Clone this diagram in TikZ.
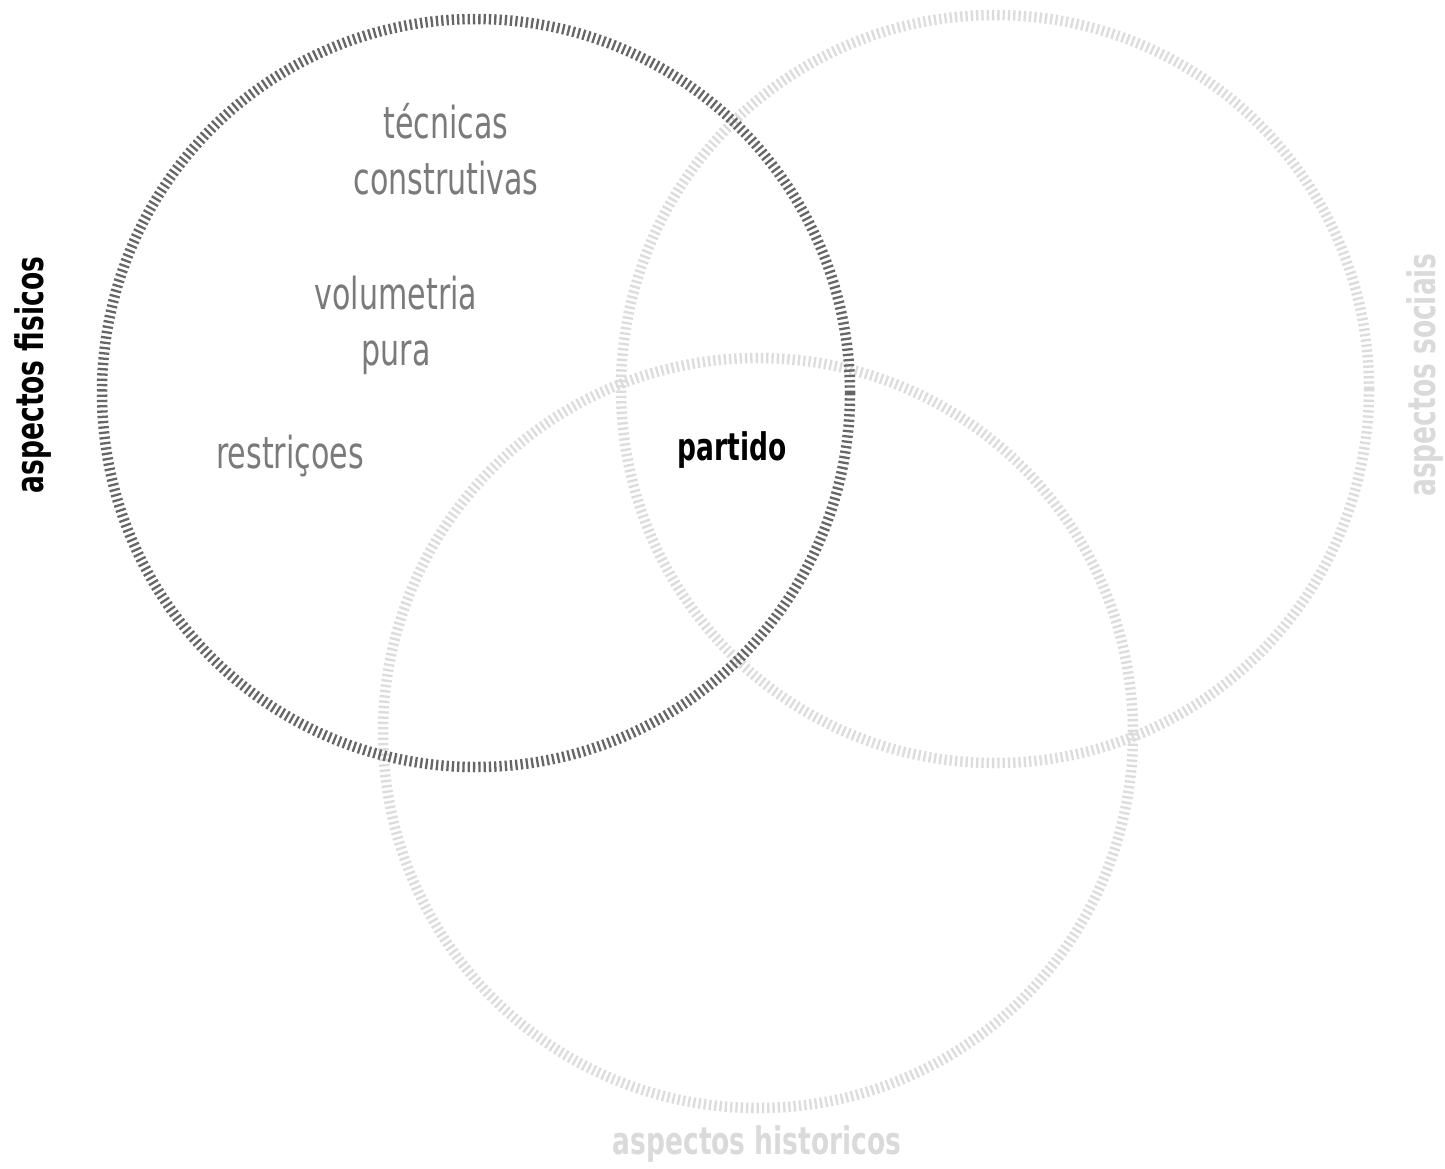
\documentclass[tikz,border=0pt]{standalone}
\usepackage{fontspec}
\setmainfont{DejaVu Sans Condensed}
\newfontfamily\boldcond{DejaVu Sans Condensed Bold}
\newcommand\cnd[1]{\scalebox{0.76}[1]{#1}}
\newcommand\bcnd[1]{\scalebox{0.775}[1]{#1}}
\definecolor{darkring}{HTML}{666666}
\definecolor{lightring}{HTML}{DCDCDC}
\definecolor{txtgray}{HTML}{7A7A7A}
\definecolor{lbllight}{HTML}{DADADA}
\begin{document}
\begin{tikzpicture}[x=1pt,y=-1pt,
  ring/.style={line width=10.5pt, dash pattern=on 2.3pt off 3pt},
  word/.style={text=txtgray, font=\fontsize{44}{48}\selectfont, inner sep=0pt},
  biglabel/.style={font=\boldcond\fontsize{38}{42}\selectfont, inner sep=0pt}]
\useasboundingbox (0,0) rectangle (1445,1168);
\fill[white] (0,0) rectangle (1445,1168);
\draw[ring, lightring] (995,389) circle[radius=374];
\draw[ring, lightring] (758,733) circle[radius=375];
\draw[ring, darkring] (476,393) circle[radius=374];
\node[word] (tec) at (446,121) {\cnd{técnicas}};
\node[word] (con) at (446,178) {\cnd{construtivas}};
\node[word] (vol) at (396,293) {\cnd{volumetria}};
\node[word] (pur) at (396,358) {\cnd{pura}};
\node[word] (res) at (290,456) {\cnd{restriçoes}};
\node[biglabel, text=black] (par) at (732,450) {\bcnd{partido}};
\node[biglabel, text=black, rotate=90] (fis) at (33,375) {\bcnd{aspectos fisicos}};
\node[biglabel, text=lbllight, rotate=90] (soc) at (1425,375) {\bcnd{aspectos sociais}};
\node[biglabel, text=lbllight] (his) at (757,1144) {\bcnd{aspectos historicos}};
\end{tikzpicture}
\end{document}
